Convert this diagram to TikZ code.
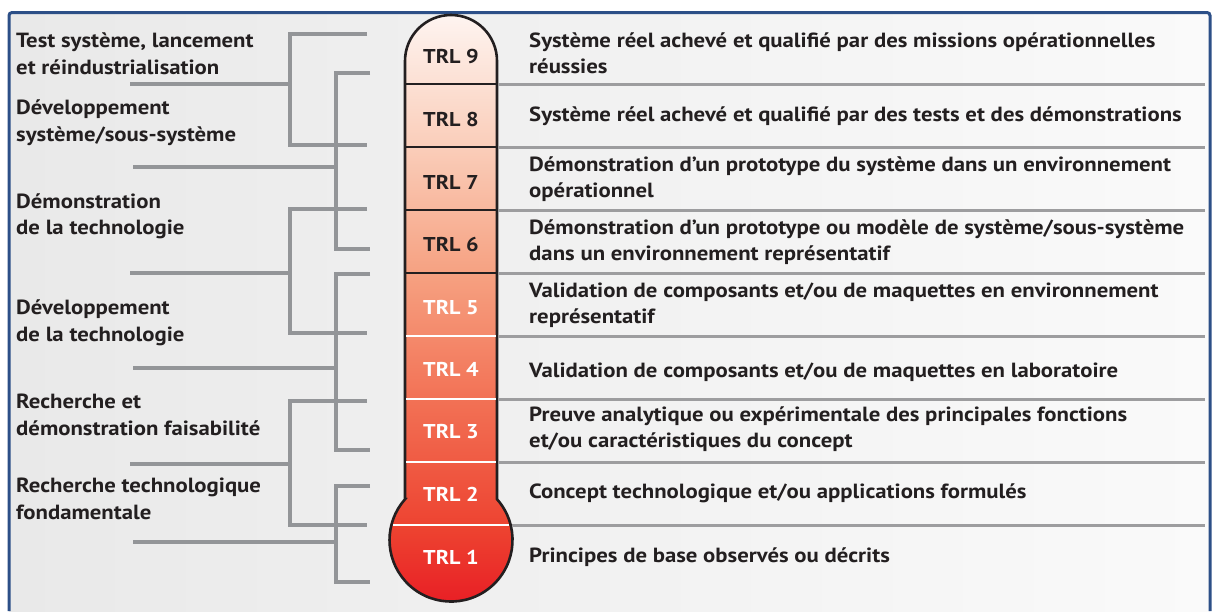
\documentclass[tikz,border=0pt]{standalone}
\usepackage{fontspec}
\setmainfont{PT Sans}[FakeStretch=1.11]
\usepackage{tikz}

\definecolor{frameblue}{RGB}{44,79,135}
\definecolor{bracketgray}{RGB}{147,149,152}
\definecolor{rulegray}{RGB}{157,157,159}
\definecolor{inkdark}{RGB}{35,31,32}
\definecolor{bggray}{RGB}{233,233,233}
\definecolor{bgwhite}{RGB}{250,250,250}
\definecolor{heat9}{RGB}{254,244,240}
\definecolor{heat8}{RGB}{250,205,185}
\definecolor{heat6}{RGB}{246,160,128}
\definecolor{heat4}{RGB}{242,112,84}
\definecolor{heat2}{RGB}{237,66,48}
\definecolor{heat1}{RGB}{232,28,36}

\pgfdeclareverticalshading{thermo}{100bp}{color(0bp)=(heat1); color(25bp)=(heat1);
  color(31.6bp)=(heat2); color(42.3bp)=(heat4); color(53bp)=(heat6);
  color(63.8bp)=(heat8); color(75bp)=(heat9); color(100bp)=(heat9)}

\tikzset{
  phase/.style={anchor=base west, align=left, inner sep=0pt, text=inkdark,
    font=\bfseries\fontsize{20.5}{26.3}\selectfont},
  desc/.style={anchor=base west, align=left, inner sep=0pt, text=inkdark,
    font=\bfseries\fontsize{20.5}{26}\selectfont},
  level/.style={anchor=base, inner sep=0pt, font=\bfseries\fontsize{20}{25}\selectfont},
  bracket/.style={bracketgray, line width=4pt},
  rowrule/.style={rulegray, line width=3pt},
}

\begin{document}
\begin{tikzpicture}[x=1pt, y=-1pt]
  \useasboundingbox (0,0) rectangle (1212,611);

  % frame and background
  \shade[left color=bggray, right color=bgwhite] (9,12.5) rectangle (1210,611);
  \draw[frameblue, line width=3pt, rounded corners=3pt] (9,611) -- (9,12.5) -- (1210,12.5) -- (1210,611);

  % thermometer
  \shadedraw[shading=thermo, draw=inkdark, line width=2.6pt]
    (405,499.2) -- (405,61) arc[start angle=180, end angle=0, radius=46pt]
    -- (497,499.2) arc[start angle=41.6, end angle=-221.6, radius=61.5pt] -- cycle;
  \draw[inkdark, line width=2.4pt] (406.3,84) -- (495.7,84);
  \draw[inkdark, line width=2.4pt] (406.3,147) -- (495.7,147);
  \draw[inkdark, line width=2.4pt] (406.3,210) -- (495.7,210);
  \draw[inkdark, line width=2.4pt] (406.3,273) -- (495.7,273);
  \draw[white, line width=2.6pt] (406.3,336) -- (495.7,336);
  \draw[white, line width=2.6pt] (406.3,399) -- (495.7,399);
  \draw[white, line width=2.6pt] (406.3,462) -- (495.7,462);
  \draw[white, line width=2.6pt] (392.8,525) -- (509.2,525);

  % rules to the right
  \draw[rowrule] (498.3,84) -- (1205,84);
  \draw[rowrule] (498.3,147) -- (1205,147);
  \draw[rowrule] (498.3,210) -- (1205,210);
  \draw[rowrule] (498.3,273) -- (1205,273);
  \draw[rowrule] (498.3,336) -- (1205,336);
  \draw[rowrule] (498.3,399) -- (1205,399);
  \draw[rowrule] (498.3,462) -- (1205,462);
  \draw[rowrule] (511.8,525) -- (1205,525);

  % levels
  \node[level, text=inkdark] (trl9) at (451,63.3) {TRL 9};
  \node[level, text=inkdark] (trl8) at (451,126.7) {TRL 8};
  \node[level, text=inkdark] (trl7) at (451,189.3) {TRL 7};
  \node[level, text=inkdark] (trl6) at (451,251.7) {TRL 6};
  \node[level, text=white] (trl5) at (451,314) {TRL 5};
  \node[level, text=white] (trl4) at (451,376.7) {TRL 4};
  \node[level, text=white] (trl3) at (451,438.3) {TRL 3};
  \node[level, text=white] (trl2) at (451,501.7) {TRL 2};
  \node[level, text=white] (trl1) at (451,564) {TRL 1};

  % descriptions (base = last line)
  \node[desc] (desc9) at (529,73.3) {Système réel achevé et qualifié par des missions opérationnelles\\réussies};
  \node[desc] (desc8) at (529,121.7) {Système réel achevé et qualifié par des tests et des démonstrations};
  \node[desc] (desc7) at (529,197) {Démonstration d’un prototype du système dans un environnement\\opérationnel};
  \node[desc] (desc6) at (529,260) {Démonstration d’un prototype ou modèle de système/sous-système\\dans un environnement représentatif};
  \node[desc] (desc5) at (529,323) {Validation de composants et/ou de maquettes en environnement\\représentatif};
  \node[desc] (desc4) at (529,377) {Validation de composants et/ou de maquettes en laboratoire};
  \node[desc] (desc3) at (529,447) {Preuve analytique ou expérimentale des principales fonctions\\et/ou caractéristiques du concept};
  \node[desc] (desc2) at (529,498) {Concept technologique et/ou applications formulés};
  \node[desc] (desc1) at (529,562) {Principes de base observés ou décrits};

  % phases
  \node[phase] (launch) at (16,74) {Test système, lancement\\et réindustrialisation};
  \node[phase] (sysdev) at (16,141) {Développement\\système/sous-système};
  \node[phase] (techdemo) at (16,234.3) {Démonstration\\de la technologie};
  \node[phase] (techdev) at (16,341) {Développement\\de la technologie};
  \node[phase] (feasib) at (16,435) {Recherche et\\démonstration faisabilité};
  \node[phase] (basic) at (16,519) {Recherche technologique\\fondamentale};

  % brackets
  \draw[bracket] (367,34) -- (290,34) -- (290,145) -- (367,145);
  \draw[bracket] (130,84) -- (290,84);
  \draw[bracket] (370,73) -- (336,73) -- (336,249) -- (370,249);
  \draw[bracket] (133,167) -- (336,167);
  \draw[bracket] (367,209) -- (290,209) -- (290,333) -- (367,333);
  \draw[bracket] (130,273) -- (290,273);
  \draw[bracket] (370,274) -- (336,274) -- (336,450) -- (370,450);
  \draw[bracket] (133,368) -- (336,368);
  \draw[bracket] (367,401) -- (290,401) -- (290,525) -- (367,525);
  \draw[bracket] (130,464) -- (290,464);
  \draw[bracket] (370,486) -- (336,486) -- (336,582) -- (370,582);
  \draw[bracket] (133,542) -- (336,542);
\end{tikzpicture}
\end{document}
